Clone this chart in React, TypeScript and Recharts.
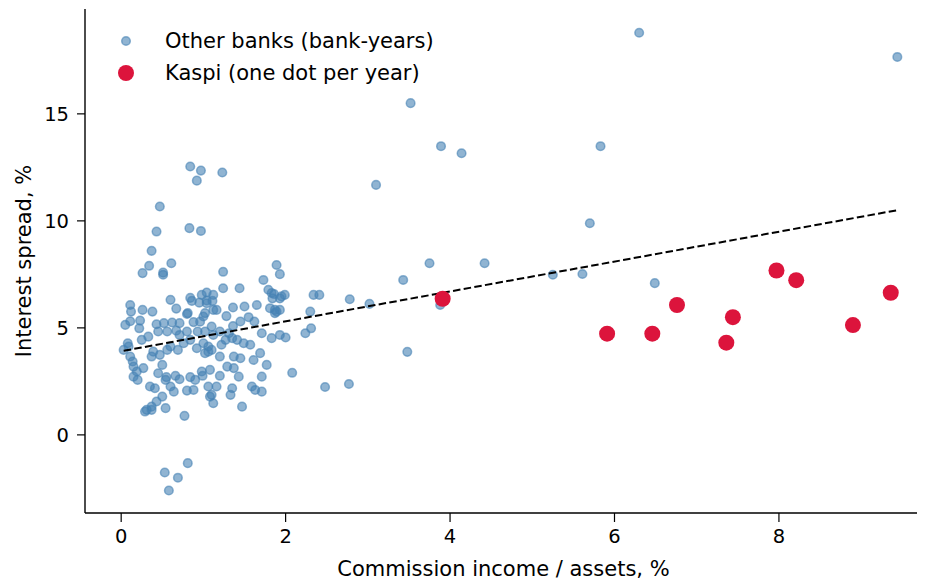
import React from "react";
import { ScatterChart, Scatter, XAxis, YAxis, Label } from "recharts";

// Other banks: commission income / assets (%) and interest spread (%), one entry per bank-year
const otherX = [
  6.3, 9.44, 3.52, 3.89, 4.14, 5.83, 3.1, 5.7, 3.75, 4.42, 3.43, 5.25, 5.61, 6.49, 2.78, 3.02,
  2.34, 2.41, 2.3, 3.88, 3.48, 2.48, 2.77, 2.08, 2.24, 2.31, 2.0,
  0.84, 0.97, 0.92, 1.23, 0.47, 0.43, 0.83, 0.97, 0.37, 0.34, 0.26, 0.51, 0.51, 0.61, 1.24, 1.89,
  1.93, 1.73, 1.24, 1.44, 0.6, 0.84, 1.04, 1.12, 1.79, 1.83, 1.99, 0.86, 1.65, 1.84, 1.86, 1.95,
  1.93, 1.81, 1.87, 1.93, 1.87, 0.11, 0.12, 0.26, 0.38, 0.67, 0.81, 0.95, 1.04, 1.11,
  0.98, 1.04, 1.16, 1.0, 1.12, 1.89, 1.1, 1.36, 1.2, 1.12, 1.27, 1.35, 1.41, 1.49, 1.57, 1.31,
  1.71, 1.83, 1.93, 1.22, 1.06, 1.02, 1.1, 1.2, 1.37, 1.45, 1.61, 1.69, 1.77, 1.29, 1.37, 1.08,
  0.98, 1.2, 1.43, 1.71, 1.06, 1.16, 1.35, 1.59, 1.63, 1.71, 1.1, 1.33, 1.12, 1.47,
  0.11, 0.05, 0.23, 0.22, 0.43, 0.52, 0.62, 0.71, 0.8, 0.88, 0.96, 1.02, 0.45, 0.56, 0.67, 0.71,
  0.8, 0.93, 1.02, 0.08, 0.09, 0.03, 0.25, 0.33, 0.11, 0.14, 0.15, 0.19, 0.15, 0.2, 0.27, 0.37,
  0.39, 0.47, 0.56, 0.5, 0.6, 0.69, 0.76, 0.84, 0.92, 1.0, 1.06, 0.45, 0.55, 0.54, 0.66, 0.71,
  0.84, 0.9, 0.99, 0.35, 0.41, 0.6, 0.64, 0.5, 0.43, 0.37, 0.31, 0.54, 0.8, 0.88, 0.77, 1.08,
  0.29, 0.37, 0.81, 0.53, 0.69, 0.58,
  1.36, 1.5, 1.55, 1.45, 1.28, 1.62,
];
const otherY = [
  18.79, 17.66, 15.5, 13.49, 13.16, 13.49, 11.68, 9.89, 8.02, 8.02, 7.24, 7.48, 7.52, 7.09, 6.34, 6.12,
  6.54, 6.54, 5.76, 6.07, 3.88, 2.24, 2.38, 2.9, 4.75, 4.98, 4.55,
  12.54, 12.35, 11.88, 12.26, 10.67, 9.5, 9.66, 9.53, 8.6, 7.9, 7.56, 7.58, 7.48, 8.02, 7.62, 7.94,
  7.51, 7.24, 6.85, 6.85, 6.31, 6.4, 6.65, 6.54, 6.78, 6.63, 6.54, 6.26, 6.07, 6.38, 6.58, 6.47,
  6.38, 5.92, 5.84, 5.84, 5.69, 6.07, 5.76, 5.84, 5.76, 5.9, 5.69, 6.18, 6.28, 6.26,
  6.54, 6.15, 5.84, 5.53, 5.84, 5.76, 5.06, 5.09, 4.83, 4.67, 4.44, 4.52, 4.44, 4.28, 4.21, 4.75,
  4.75, 4.52, 4.67, 4.21, 4.13, 3.82, 3.97, 3.66, 3.66, 3.58, 3.5, 3.82, 3.27, 3.19, 3.12, 3.04,
  2.96, 2.76, 2.72, 2.72, 2.26, 2.26, 2.18, 2.26, 2.1, 2.02, 1.87, 1.87, 1.48, 1.32,
  5.31, 5.14, 5.34, 4.98, 5.17, 5.22, 5.25, 5.22, 5.65, 5.27, 5.29, 5.69, 4.83, 4.83, 4.87, 4.67,
  4.83, 4.83, 4.83, 4.28, 4.13, 3.97, 4.44, 4.59, 3.66, 3.43, 3.19, 2.96, 2.72, 2.57, 3.12, 3.66,
  3.89, 3.74, 3.97, 3.27, 4.13, 3.97, 4.28, 4.44, 4.05, 4.28, 3.89, 2.88, 2.7, 2.57, 2.76, 2.6,
  2.7, 2.57, 2.76, 2.26, 2.18, 2.26, 2.02, 1.79, 1.56, 1.32, 1.17, 1.25, 2.07, 2.1, 0.89, 1.79,
  1.09, 1.17, -1.32, -1.76, -2.0, -2.6,
  5.95, 6.0, 5.5, 5.3, 5.55, 5.3,
];

// Kaspi, one point per year
const kaspiX = [3.91, 5.91, 6.46, 6.76, 7.44, 7.36, 7.97, 8.21, 8.9, 9.36];
const kaspiY = [6.36, 4.73, 4.73, 6.07, 5.5, 4.31, 7.68, 7.23, 5.13, 6.64];

// fitted trend across the bank-years
const trendX = [0.03, 9.44];
const trendIntercept = 3.91;
const trendSlope = 0.698;

const xTicks = [0, 2, 4, 6, 8];
const yTicks = [0, 5, 10, 15];

const otherData = otherX.map((x, i) => ({ x, y: otherY[i] }));
const kaspiData = kaspiX.map((x, i) => ({ x, y: kaspiY[i] }));
const trendData = trendX.map((x) => ({ x, y: trendIntercept + trendSlope * x }));

const FONT = "'DejaVu Sans', sans-serif";
const BLUE = "#4682B4";
const RED = "#DC143C";

const BlueDot = (p: any) => (
  <circle
    cx={p.cx}
    cy={p.cy}
    r={4.3}
    fill={BLUE}
    fillOpacity={0.6}
    stroke={BLUE}
    strokeOpacity={0.6}
    strokeWidth={1.5}
  />
);

const RedDot = (p: any) => <circle cx={p.cx} cy={p.cy} r={8} fill={RED} />;

const NoDot = () => <g />;

const tickStyle = { fontSize: 19.5, fill: "#000", fontFamily: FONT };

export default function App() {
  return (
    <div style={{ position: "relative", width: 917, height: 573, background: "#fff" }}>
      <ScatterChart width={917} height={573} margin={{ top: 1, right: 3, bottom: 0, left: 0 }}>
        <XAxis
          type="number"
          dataKey="x"
          domain={[-0.44, 9.74]}
          allowDataOverflow
          ticks={xTicks}
          height={68}
          tickSize={9}
          tickMargin={7}
          tick={tickStyle}
          axisLine={{ stroke: "#000", strokeWidth: 1.4 }}
          tickLine={{ stroke: "#000", strokeWidth: 1.2 }}
        >
          <Label
            content={(props: any) => {
              const vb = props.viewBox;
              return (
                <text
                  x={vb.x + vb.width / 2}
                  y={vb.y + 63}
                  textAnchor="middle"
                  fontSize={21}
                  fontFamily={FONT}
                  fill="#000"
                >
                  Commission income / assets, %
                </text>
              );
            }}
          />
        </XAxis>
        <YAxis
          type="number"
          dataKey="y"
          domain={[-3.65, 19.9]}
          allowDataOverflow
          ticks={yTicks}
          width={77}
          tickSize={8}
          tickMargin={8}
          tick={tickStyle}
          axisLine={{ stroke: "#000", strokeWidth: 1.4 }}
          tickLine={{ stroke: "#000", strokeWidth: 1.2 }}
        >
          <Label
            content={(props: any) => {
              const vb = props.viewBox;
              const cx = vb.x + 16;
              const cy = vb.y + vb.height / 2;
              return (
                <text
                  x={cx}
                  y={cy}
                  transform={`rotate(-90 ${cx} ${cy})`}
                  textAnchor="middle"
                  dominantBaseline="central"
                  fontSize={21}
                  fontFamily={FONT}
                  fill="#000"
                >
                  Interest spread, %
                </text>
              );
            }}
          />
        </YAxis>
        <Scatter data={otherData} shape={BlueDot} isAnimationActive={false} />
        <Scatter
          data={trendData}
          shape={NoDot}
          line={{ stroke: "#000", strokeWidth: 2, strokeDasharray: "7.5 3.3" }}
          fill="#000"
          isAnimationActive={false}
        />
        <Scatter data={kaspiData} shape={RedDot} isAnimationActive={false} />
      </ScatterChart>
      <svg
        width={480}
        height={90}
        style={{ position: "absolute", left: 0, top: 0, pointerEvents: "none" }}
      >
        <circle cx={118} cy={33} r={4.3} fill={BLUE} fillOpacity={0.6} stroke={BLUE} strokeOpacity={0.6} strokeWidth={1.5} />
        <text x={157} y={40} fontSize={21} fontFamily={FONT} fill="#000">
          Other banks (bank-years)
        </text>
        <circle cx={118} cy={65} r={8} fill={RED} />
        <text x={157} y={72} fontSize={21} fontFamily={FONT} fill="#000">
          Kaspi (one dot per year)
        </text>
      </svg>
    </div>
  );
}
